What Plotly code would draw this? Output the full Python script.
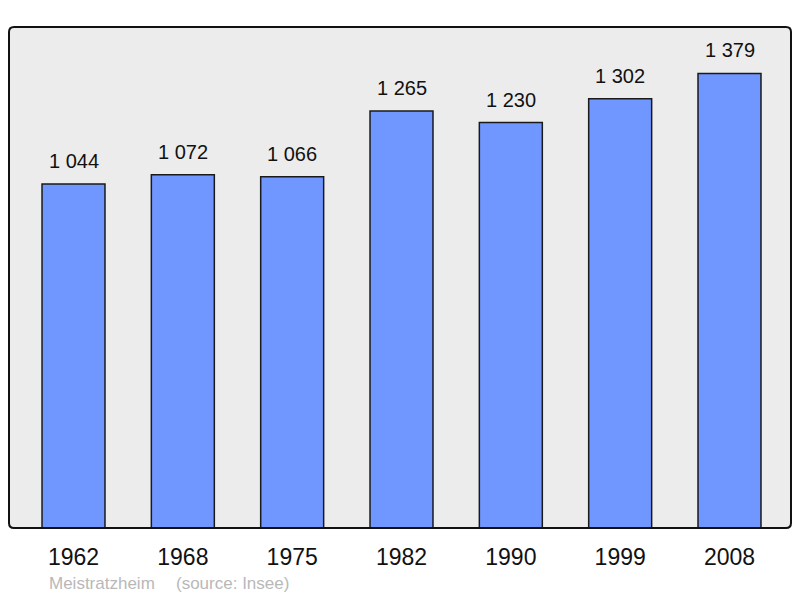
import plotly.graph_objects as go

years = ["1962", "1968", "1975", "1982", "1990", "1999", "2008"]
population = [1044, 1072, 1066, 1265, 1230, 1302, 1379]
labels = [f"{v:,}".replace(",", " ") for v in population]
footer_name = "Meistratzheim"
footer_source = "(source: Insee)"

OFF = 8  # page body margin
W, H = 800 - 2 * OFF, 598 - OFF
L, R, T, B = 9 - OFF, W - (791 - OFF), 27 - OFF, H - (528 - OFF)
pw, ph = W - L - R, H - T - B

def px_x(x):
    return (x - OFF - L) / pw

def px_y(y):
    return (T + ph - (y - OFF)) / ph

fig = go.Figure()
fig.add_trace(go.Bar(
    x=years, y=population, width=0.576,
    marker=dict(color="#7096ff", line=dict(color="#1a1a1a", width=1.5)),
    hoverinfo="skip",
))
for i, (v, lab) in enumerate(zip(population, labels)):
    fig.add_annotation(x=i, y=v, text=lab, showarrow=False, yanchor="bottom",
                       yshift=10, font=dict(size=20, color="#111", family="Liberation Sans, Arial"))

fig.add_annotation(xref="paper", yref="paper", x=px_x(47), y=px_y(583),
                   xanchor="left", yanchor="middle", text=footer_name, showarrow=False,
                   font=dict(size=17, color="#b8b8b8", family="Liberation Sans, Arial"))
fig.add_annotation(xref="paper", yref="paper", x=px_x(174), y=px_y(583),
                   xanchor="left", yanchor="middle", text=footer_source, showarrow=False,
                   font=dict(size=17, color="#b8b8b8", family="Liberation Sans, Arial"))

# rounded border
r = 5
rx, ry = r / pw, r / ph
path = (f"M {rx},0 L {1-rx},0 Q 1,0 1,{ry} L 1,{1-ry} Q 1,1 {1-rx},1 "
        f"L {rx},1 Q 0,1 0,{1-ry} L 0,{ry} Q 0,0 {rx},0 Z")
fig.add_shape(type="path", xref="paper", yref="paper", path=path,
              line=dict(color="#111", width=2), layer="above")

fig.update_layout(
    width=W, height=H, margin=dict(l=L, r=R, t=T, b=B),
    paper_bgcolor="white", plot_bgcolor="#ececec", showlegend=False,
    font=dict(family="Liberation Sans, Arial", color="#111"),
    xaxis=dict(type="category", range=[-0.59, 6.5625], showgrid=False, zeroline=False,
               showline=False, ticks="", ticklabelstandoff=13,
               tickfont=dict(size=23, color="#111")),
    yaxis=dict(range=[0, 1520], showgrid=False, zeroline=False, showline=False,
               showticklabels=False, ticks=""),
)
fig.write_html("out.html")
